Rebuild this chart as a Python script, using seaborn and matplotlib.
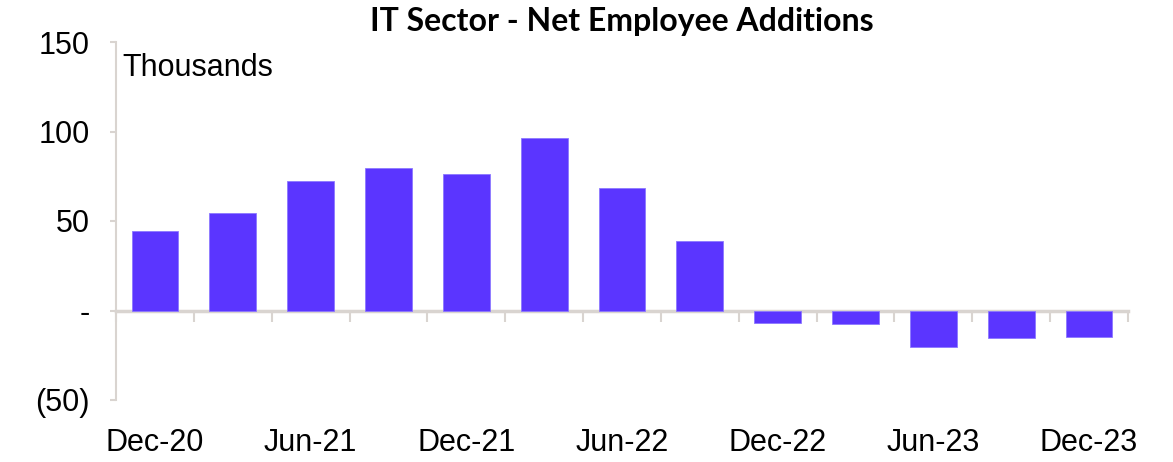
import matplotlib
matplotlib.use("Agg")
import matplotlib.pyplot as plt
import seaborn as sns
import pandas as pd
import matplotlib.ticker as mticker

categories = ["Dec-20", "Mar-21", "Jun-21", "Sep-21", "Dec-21", "Mar-22", "Jun-22",
              "Sep-22", "Dec-22", "Mar-23", "Jun-23", "Sep-23", "Dec-23"]
values = [44.6, 54.6, 72.5, 79.5, 76.5, 96.2, 68.7, 39.0, -7.0, -7.6, -20.4, -15.6, -15.0]
shown_labels = ["Dec-20", "Jun-21", "Dec-21", "Jun-22", "Dec-22", "Jun-23", "Dec-23"]
y_ticks = [-50, 0, 50, 100, 150]

sns.set_theme(style="white")
plt.rcParams['font.family'] = ['Liberation Sans', 'DejaVu Sans']

df = pd.DataFrame({"quarter": categories, "value": values})

fig = plt.figure(figsize=(11.73, 4.62), dpi=100)
ax = fig.add_axes([116/1173, 1 - 400/462, (1128 - 116)/1173, (400 - 42)/462])

sns.barplot(data=df, x="quarter", y="value", color="#5B35FF", width=0.6,
            saturation=1, edgecolor="#8C78FF", linewidth=0.6, ax=ax)

ax.set_xlim(-0.5, len(categories) - 0.5)
ax.set_ylim(-50, 150)
ax.set_xlabel("")
ax.set_ylabel("")

axis_col = "#D9D4D0"
for s in ["top", "right"]:
    ax.spines[s].set_visible(False)
ax.spines["left"].set_color(axis_col)
ax.spines["left"].set_linewidth(1.5)
ax.spines["bottom"].set_color(axis_col)
ax.spines["bottom"].set_linewidth(2.5)
ax.spines["bottom"].set_position(("data", 0))
ax.spines["bottom"].set_zorder(0)

# y axis
ax.set_yticks(y_ticks)
def yfmt(v, pos):
    if v == 0:
        return "-"
    if v < 0:
        return f"({abs(int(v))})"
    return f"{int(v)}"
ax.yaxis.set_major_formatter(mticker.FuncFormatter(yfmt))
ax.tick_params(axis="y", which="major", left=True, length=4, width=1.5,
               color=axis_col, pad=15, labelsize=22, labelcolor="black")

# x ticks at category boundaries, hanging from zero line
boundaries = [i - 0.5 for i in range(len(categories) + 1)]
ax.set_xticks(boundaries)
ax.set_xticklabels([])
ax.tick_params(axis="x", which="major", bottom=True, length=8, width=1.5,
               color=axis_col, direction="out")

# labels at bottom via secondary axis
sec = ax.secondary_xaxis("bottom")
pos = [categories.index(l) for l in shown_labels]
sec.set_xticks(pos)
sec.set_xticklabels(shown_labels)
sec.tick_params(axis="x", length=0, pad=20, labelsize=22, labelcolor="black")
sec.spines["bottom"].set_visible(False)

ax.text(0.006, 0.927, "Thousands", transform=ax.transAxes, fontsize=22,
        ha="left", va="center", color="black")

fig.text((116 + 1128) / 2 / 1173, 1 - 21 / 462, "IT Sector - Net Employee Additions",
         ha="center", va="center", fontsize=23, fontweight="bold",
         family=["Lato", "DejaVu Sans"], color="black")

fig.savefig("out.png", dpi=100)
